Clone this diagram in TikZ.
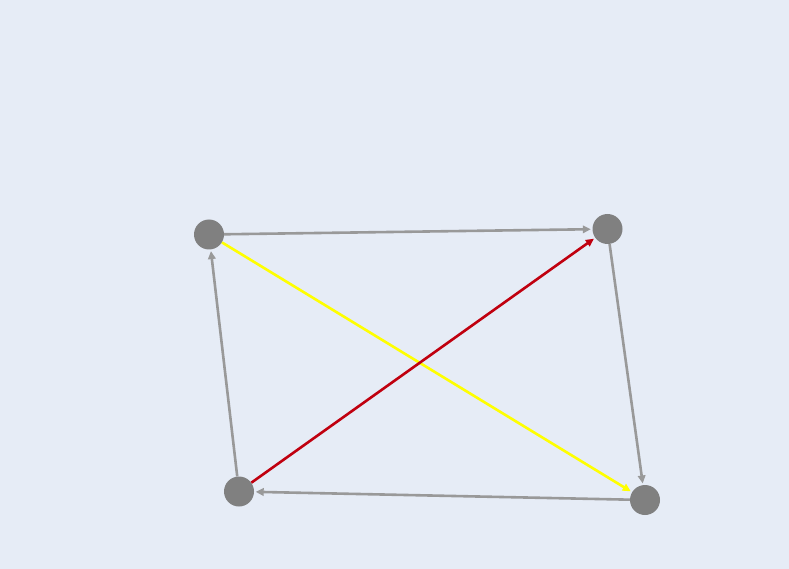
\documentclass[tikz,border=0pt]{standalone}
\usetikzlibrary{arrows.meta}
\definecolor{bg}{HTML}{E6ECF6}
\definecolor{nodegray}{HTML}{808080}
\definecolor{edgegray}{HTML}{999999}
\definecolor{edgeyellow}{HTML}{FFFF00}
\definecolor{edgered}{HTML}{C0000F}
\begin{document}
\begin{tikzpicture}[x=1pt,y=-1pt,
  vertex/.style={circle,fill=nodegray,draw=none,minimum size=30pt,inner sep=0pt},
  edge/.style={line width=2.6pt,-{Triangle[length=8pt,width=7.5pt]},shorten >=1.5pt}]
\fill[bg] (0,0) rectangle (789,569);
\useasboundingbox (0,0) rectangle (789,569);
\node[vertex] (A) at (209,234.5) {};
\node[vertex] (B) at (607.5,229) {};
\node[vertex] (C) at (239,491.5) {};
\node[vertex] (D) at (645,500) {};
\draw[edge,edgegray] (A) -- (B);
\draw[edge,edgegray] (B) -- (D);
\draw[edge,edgegray] (D) -- (C);
\draw[edge,edgegray] (C) -- (A);
\draw[edge,edgeyellow] (A) -- (D);
\draw[edge,edgered] (C) -- (B);
\end{tikzpicture}
\end{document}
